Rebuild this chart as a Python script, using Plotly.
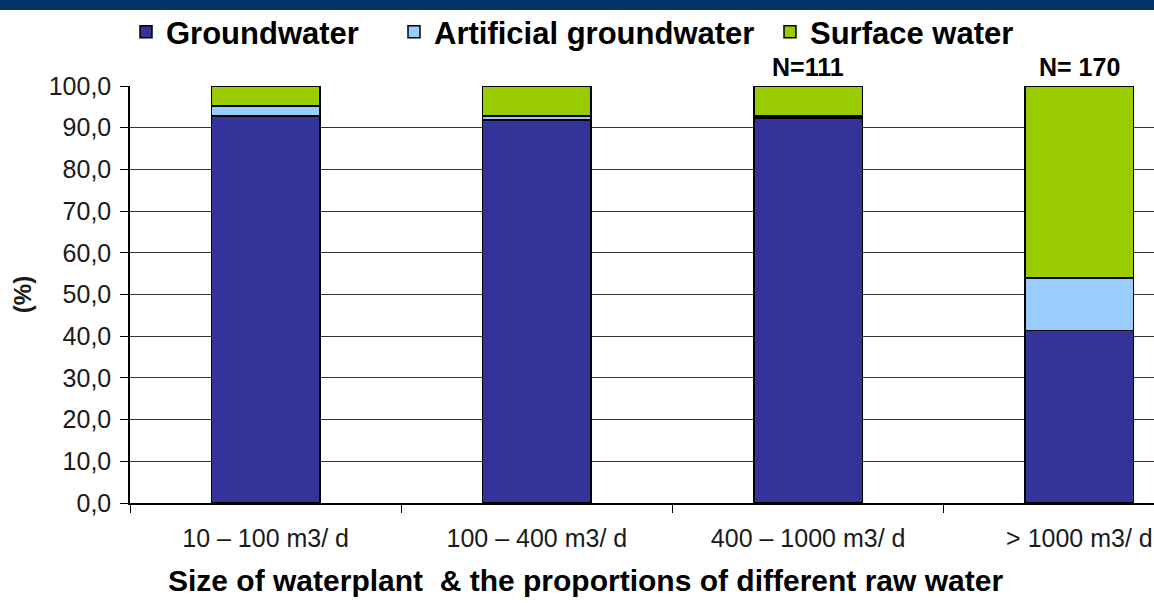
import plotly.graph_objects as go

categories = ["10 \u2013 100 m3/ d", "100 \u2013 400 m3/ d", "400 \u2013 1000 m3/ d", "> 1000 m3/ d"]
groundwater = [92.8, 91.8, 92.3, 41.4]
artificial = [2.4, 1.0, 0.5, 12.5]
surface = [4.8, 7.2, 7.2, 46.1]
n_labels = ["", "", "N=111", "N= 170"]
y_tick_vals = [0, 10, 20, 30, 40, 50, 60, 70, 80, 90, 100]
y_tick_text = ["0,0", "10,0", "20,0", "30,0", "40,0", "50,0", "60,0", "70,0", "80,0", "90,0", "100,0"]
x_title = "Size of waterplant  & the proportions of different raw water"

FONT = "Liberation Sans, Arial, sans-serif"
line = dict(color="black", width=1.5)
plot_w = 1154 - 130
plot_h = 603 - 86 - 100

fig = go.Figure()
fig.add_trace(go.Bar(name="Groundwater", x=categories, y=groundwater, legend="legend",
                     marker=dict(color="#333399", line=line), width=0.4))
fig.add_trace(go.Bar(name="Artificial groundwater", x=categories, y=artificial, legend="legend2",
                     marker=dict(color="#99CCFF", line=line), width=0.4))
fig.add_trace(go.Bar(name="Surface water", x=categories, y=surface, legend="legend3",
                     marker=dict(color="#99CC00", line=line), width=0.4))

for c, t in zip(categories, n_labels):
    if t:
        fig.add_annotation(x=c, y=100, yref="y", text="<b>%s</b>" % t, showarrow=False,
                           yanchor="middle", yshift=86 - 67, font=dict(family=FONT, size=25, color="black"))

fig.add_annotation(xref="paper", yref="paper", x=(585 - 130) / plot_w, y=-(580 - 503) / plot_h,
                   xanchor="center", yanchor="middle", showarrow=False,
                   text="<b>%s</b>" % x_title, font=dict(family=FONT, size=30, color="black"))

fig.add_shape(type="rect", xref="paper", yref="paper", x0=-0.2, x1=1.05,
              y0=1 + 76 / plot_h, y1=1 + 90 / plot_h, fillcolor="#003366", line_width=0, layer="below")

def leg(xpix):
    return dict(orientation="h", x=(xpix - 130) / plot_w, xanchor="left", y=1 + (86 - 32) / plot_h,
                yanchor="middle", font=dict(family=FONT, size=31, color="black", weight="bold"),
                bgcolor="rgba(0,0,0,0)")

fig.update_layout(
    width=1154, height=603,
    margin=dict(l=130, r=0, t=86, b=100, autoexpand=False),
    barmode="stack",
    plot_bgcolor="white", paper_bgcolor="white",
    font=dict(family=FONT, color="black"),
    showlegend=True,
    legend=leg(126), legend2=leg(394), legend3=leg(770),
    xaxis=dict(type="category", range=[-0.5, 3.275], tickson="boundaries", ticks="outside",
               ticklen=8, tickcolor="black", showgrid=False, showline=True, linecolor="black",
               linewidth=1.5, tickfont=dict(size=25, color="#1a1a1a"), ticklabelstandoff=12,
               automargin=False),
    yaxis=dict(range=[0, 100], tickvals=y_tick_vals, ticktext=y_tick_text, ticks="outside",
               ticklen=8, tickcolor="black", showgrid=True, gridcolor="#333", gridwidth=1.2,
               showline=True, linecolor="black", linewidth=1.5, tickfont=dict(size=25, color="#1a1a1a"),
               ticklabelstandoff=4, automargin=False,
               title=dict(text="<b>(%)</b>", font=dict(size=24, color="#1a1a1a"), standoff=10)),
)

fig.write_html("out.html", config={"displayModeBar": False},
               post_script="document.body.style.margin='0';")
